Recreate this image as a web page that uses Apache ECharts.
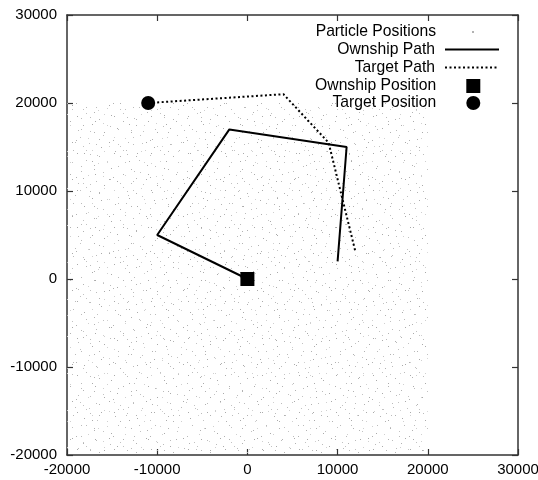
<!DOCTYPE html>
<html>
<head>
<meta charset="utf-8">
<script src="https://cdn.jsdelivr.net/npm/echarts@6/dist/echarts.min.js"></script>
<style>
  html, body { margin: 0; padding: 0; background: #fff; }
  #chart { width: 538px; height: 480px; }
</style>
</head>
<body>
<div id="chart"></div>
<script type="text/javascript">
// data
var particleX = [-20000, 20000];   // extent of the particle cloud
var particleY = [-20000, 20000];
var ownshipPathX = [0, -10000, -2000, 11000, 10000];
var ownshipPathY = [0, 5000, 17000, 15000, 2000];
var targetPathX = [-11000, 4000, 9000, 12000];
var targetPathY = [20000, 21000, 15500, 3000];
var ownshipPos = [0, 0];
var targetPos = [-11000, 20000];
var axisMin = -20000, axisMax = 30000, axisStep = 10000;

function zip(xs, ys) {
	return xs.map(function (x, i) { return [x, ys[i]]; });
}

// speckle texture for the particle cloud (two tiles of different size so it repeats less)
function speckle(size, dots) {
	var c = document.createElement('canvas');
	c.width = size; c.height = size;
	var g = c.getContext('2d');
	var greys = ['#aaa', '#c2c2c2', '#b2b2b2', '#d0d0d0', '#bbb'];
	dots.forEach(function (d, i) {
		g.fillStyle = greys[i % greys.length];
		g.fillRect(d[0], d[1], 1, 1);
	});
	return c;
}
var tileA = speckle(37, [[3,5],[12,2],[25,8],[33,14],[7,18],[18,13],[29,24],[2,29],[14,27],[22,33],[35,31],[9,35],[20,21],[30,3],[16,6]]);
var tileB = speckle(53, [[5,9],[19,3],[41,6],[50,17],[28,12],[11,22],[37,25],[46,33],[3,40],[22,36],[31,47],[44,49],[14,50],[8,31],[25,24],[48,41],[36,37],[17,15],[1,2],[33,1],[42,15],[27,31],[9,45],[39,44],[20,44],[51,26],[12,38],[30,19],[45,4],[4,20]]);

var font = 'Liberation Sans, Arial, sans-serif';

function axis(pos, showLabel, margin) {
	return {
		type: 'value', position: pos,
		min: axisMin, max: axisMax, interval: axisStep,
		axisLine: { show: true, onZero: false, lineStyle: { color: '#333', width: 1.5 } },
		axisTick: { show: true, inside: true, length: 6, lineStyle: { color: '#333', width: 1.2 } },
		axisLabel: {
			show: showLabel, margin: margin, fontFamily: font, fontSize: 15, color: '#000',
			formatter: function (v) { return String(v); }
		},
		splitLine: { show: false }
	};
}

function legendItem(name, top, right, w, h, pad) {
	return {
		data: [name], orient: 'vertical', align: 'right',
		top: top, right: right, padding: 0,
		itemWidth: w, itemHeight: h, selectedMode: false,
		itemStyle: (w > 40 ? { opacity: 0 } : { opacity: 1 }),
		textStyle: { fontFamily: font, fontSize: 15.7, color: '#000', padding: pad }
	};
}

var myChart = echarts.init(document.getElementById('chart'));
var option = {
	animation: false,
	backgroundColor: '#fff',
	grid: { left: 67, right: 20, top: 15, bottom: 25, outerBoundsMode: 'none', containLabel: false },
	xAxis: [axis('bottom', true, 7), axis('top', false, 7)],
	yAxis: [axis('left', true, 10), axis('right', false, 10)],
	legend: [
		legendItem('Particle Positions', 24, 64, 2, 2, [0, 31, 0, 0]),
		legendItem('Ownship Path', 41.5, 38, 54, 14, [0, 5, 0, 0]),
		legendItem('Target Path', 59.5, 38, 54, 14, [0, 5, 0, 0]),
		legendItem('Ownship Position', 78, 57.7, 14, 14, [0, 25, 0, 0]),
		legendItem('Target Position', 95, 57.7, 14, 14, [0, 25, 0, 0])
	],
	series: [{
		name: 'Particle Positions',
		type: 'scatter',
		symbol: 'circle', symbolSize: 2,
		itemStyle: { color: '#999', opacity: 1 },
		data: [],
		z: 1,
		markArea: {
			silent: true,
			itemStyle: { color: { image: tileA, repeat: 'repeat' }, opacity: 1, borderWidth: 0 },
			data: [[{ coord: [particleX[0], particleY[0]] }, { coord: [particleX[1], particleY[1]] }]]
		}
	}, {
		name: 'Particle Positions',
		type: 'scatter',
		data: [],
		z: 1,
		markArea: {
			silent: true,
			itemStyle: { color: { image: tileB, repeat: 'repeat' }, opacity: 1, borderWidth: 0 },
			data: [[{ coord: [particleX[0], particleY[0]] }, { coord: [particleX[1], particleY[1]] }]]
		}
	}, {
		name: 'Ownship Path',
		type: 'line',
		symbol: 'none',
		data: zip(ownshipPathX, ownshipPathY),
		lineStyle: { color: '#000', width: 2 },
		itemStyle: { color: '#000' },
		z: 3
	}, {
		name: 'Target Path',
		type: 'line',
		symbol: 'none',
		data: zip(targetPathX, targetPathY),
		lineStyle: { color: '#000', width: 2, type: [2, 2.5] },
		itemStyle: { color: '#000' },
		z: 3
	}, {
		name: 'Ownship Position',
		type: 'scatter',
		symbol: 'rect', symbolSize: 14,
		itemStyle: { color: '#000', opacity: 1 },
		data: [ownshipPos],
		z: 4
	}, {
		name: 'Target Position',
		type: 'scatter',
		symbol: 'circle', symbolSize: 14,
		itemStyle: { color: '#000', opacity: 1 },
		data: [targetPos],
		z: 4
	}]
};
myChart.setOption(option);
</script>
</body>
</html>
